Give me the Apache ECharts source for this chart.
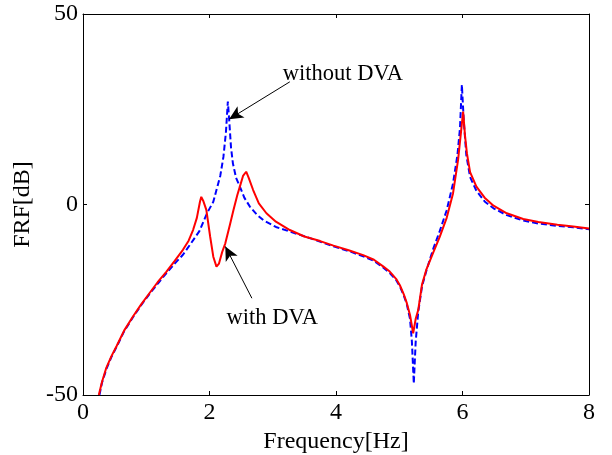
<!DOCTYPE html>
<html>
<head>
<meta charset="utf-8">
<script src="https://cdn.jsdelivr.net/npm/echarts@6/dist/echarts.min.js"></script>
<style>html,body{margin:0;padding:0;background:#fff;}#c{width:612px;height:455px;}</style>
</head>
<body>
<div id="c"></div>
<script>
// ---- data ----
const freqWith = [0.25,0.30,0.37,0.45,0.53,0.65,0.79,0.92,1.05,1.18,1.32,1.45,1.58,1.67,1.74,1.80,1.85,1.87,1.90,1.95,2.01,2.06,2.11,2.15,2.20,2.25,2.32,2.38,2.44,2.48,2.53,2.58,2.62,2.69,2.78,2.90,3.05,3.27,3.50,3.75,3.96,4.20,4.43,4.60,4.75,4.85,4.95,5.01,5.07,5.12,5.17,5.22,5.26,5.30,5.36,5.43,5.54,5.64,5.75,5.85,5.93,5.97,6.01,6.04,6.07,6.12,6.22,6.35,6.49,6.70,6.96,7.20,7.50,7.75,8.00];
const frfWith  = [-50,-46.6,-42.8,-39.8,-37.2,-33.1,-29.4,-26.2,-23.3,-20.4,-17.6,-14.8,-11.9,-9.5,-6.7,-3.5,0.8,2.0,1.0,-1.4,-8.4,-13.7,-16.3,-15.5,-12.5,-10.2,-5.5,-1.4,2.5,4.7,7.5,8.6,7.0,3.8,0.3,-2.3,-4.5,-6.7,-8.4,-9.6,-10.8,-12.0,-13.3,-14.5,-16.3,-17.6,-19.5,-21.2,-23.5,-25.9,-29.0,-33.8,-30.0,-27.7,-21.0,-17.0,-12.5,-8.5,-3.5,2.9,11.7,18.0,24.4,18.0,13.4,8.5,4.7,1.8,-0.3,-2.3,-3.8,-4.6,-5.3,-5.8,-6.3];
const freqWithout = [0.26,0.30,0.37,0.45,0.53,0.65,0.79,0.92,1.05,1.18,1.32,1.45,1.58,1.69,1.84,1.96,2.06,2.11,2.17,2.22,2.26,2.29,2.31,2.34,2.37,2.42,2.48,2.55,2.64,2.75,2.85,3.05,3.27,3.60,3.96,4.20,4.43,4.60,4.75,4.85,4.95,5.01,5.07,5.12,5.17,5.20,5.23,5.26,5.30,5.36,5.43,5.54,5.64,5.75,5.85,5.92,5.96,5.99,6.02,6.06,6.12,6.22,6.35,6.49,6.70,6.96,7.20,7.50,7.75,8.00];
const frfWithout  = [-50,-46.8,-43.2,-40.0,-37.4,-33.3,-29.6,-26.4,-23.5,-20.8,-18.0,-15.5,-13.2,-10.6,-7.0,-2.3,0.7,3.8,7.5,12.5,19.0,27.0,22.5,15.0,10.8,7.0,4.7,1.8,-0.6,-2.7,-4.1,-5.9,-7.1,-8.9,-11.0,-12.2,-13.6,-14.8,-16.6,-18.0,-19.8,-21.5,-23.8,-26.2,-30.0,-36.0,-47.0,-36.0,-28.2,-21.5,-17.3,-11.5,-7.0,-1.5,5.5,13.0,20.0,31.4,22.0,13.0,7.2,3.6,0.8,-1.0,-2.8,-4.2,-5.0,-5.6,-6.0,-6.5];
const xTicks = {min: 0, max: 8, interval: 2};
const yTicks = {min: -50, max: 50, interval: 50};
const xLabel = 'Frequency[Hz]';
const yLabel = 'FRF[dB]';
const seriesNames = ['with DVA', 'without DVA'];
// annotations: [text anchor (left-middle)], [arrow tail], [arrow head]
const noteWithoutText = [3.16, 34.2];
const noteWithoutArrow = [[3.27, 32.2], [2.31, 22.4]];
const noteWithText = [2.27, -29.8];
const noteWithArrow = [[2.67, -24.6], [2.25, -11.0]];

const FONT = "'Liberation Serif','Times New Roman',serif";
const chart = echarts.init(document.getElementById('c'), null, {renderer: 'canvas'});
const zip = (a, b) => a.map((v, i) => [v, b[i]]);

const axisCommon = {
  axisLine: {show: true, onZero: false, lineStyle: {color: '#000', width: 1}},
  axisTick: {show: true, inside: true, length: 4, lineStyle: {color: '#000'}},
  splitLine: {show: false}
};

function note(textPos, arrow, text) {
  return {
    markLine: {
      silent: true, animation: false,
      symbol: ['none', 'arrow'], symbolSize: [10, 14],
      lineStyle: {color: '#000', width: 1, type: 'solid'},
      label: {show: false},
      data: [[{coord: arrow[0]}, {coord: arrow[1]}]]
    },
    markPoint: {
      silent: true, animation: false,
      symbol: 'circle', symbolSize: 0,
      label: {show: true, position: 'right', distance: 0, formatter: text,
              color: '#000', fontFamily: FONT, fontSize: 22.5},
      data: [{coord: textPos}]
    }
  };
}

chart.setOption({
  animation: false,
  backgroundColor: '#fff',
  grid: {left: 83, right: 23, top: 14, bottom: 60, containLabel: false, outerBoundsMode: 'none'},
  xAxis: [
    Object.assign({type: 'value', position: 'bottom', name: xLabel, nameLocation: 'middle', nameGap: 32,
      nameTextStyle: {color: '#000', fontFamily: FONT, fontSize: 24},
      axisLabel: {color: '#000', fontFamily: FONT, fontSize: 24, margin: 6}}, xTicks, axisCommon),
    Object.assign({type: 'value', position: 'top', axisLabel: {show: false}}, xTicks, axisCommon)
  ],
  yAxis: [
    Object.assign({type: 'value', position: 'left', name: yLabel, nameLocation: 'middle', nameGap: 41,
      nameTextStyle: {color: '#000', fontFamily: FONT, fontSize: 24},
      axisLabel: {color: '#000', fontFamily: FONT, fontSize: 24, margin: 5}}, yTicks, axisCommon),
    Object.assign({type: 'value', position: 'right', axisLabel: {show: false}}, yTicks, axisCommon)
  ],
  series: [
    Object.assign({
      name: seriesNames[1], type: 'line', data: zip(freqWithout, frfWithout),
      showSymbol: false, symbol: 'none', clip: true, z: 2,
      lineStyle: {color: '#0000ff', width: 2, type: [6, 3]}
    }, note(noteWithoutText, noteWithoutArrow, seriesNames[1])),
    Object.assign({
      name: seriesNames[0], type: 'line', data: zip(freqWith, frfWith),
      showSymbol: false, symbol: 'none', clip: true, z: 3,
      lineStyle: {color: '#ff0000', width: 2, type: 'solid'}
    }, note(noteWithText, noteWithArrow, seriesNames[0]))
  ]
});
</script>
</body>
</html>
